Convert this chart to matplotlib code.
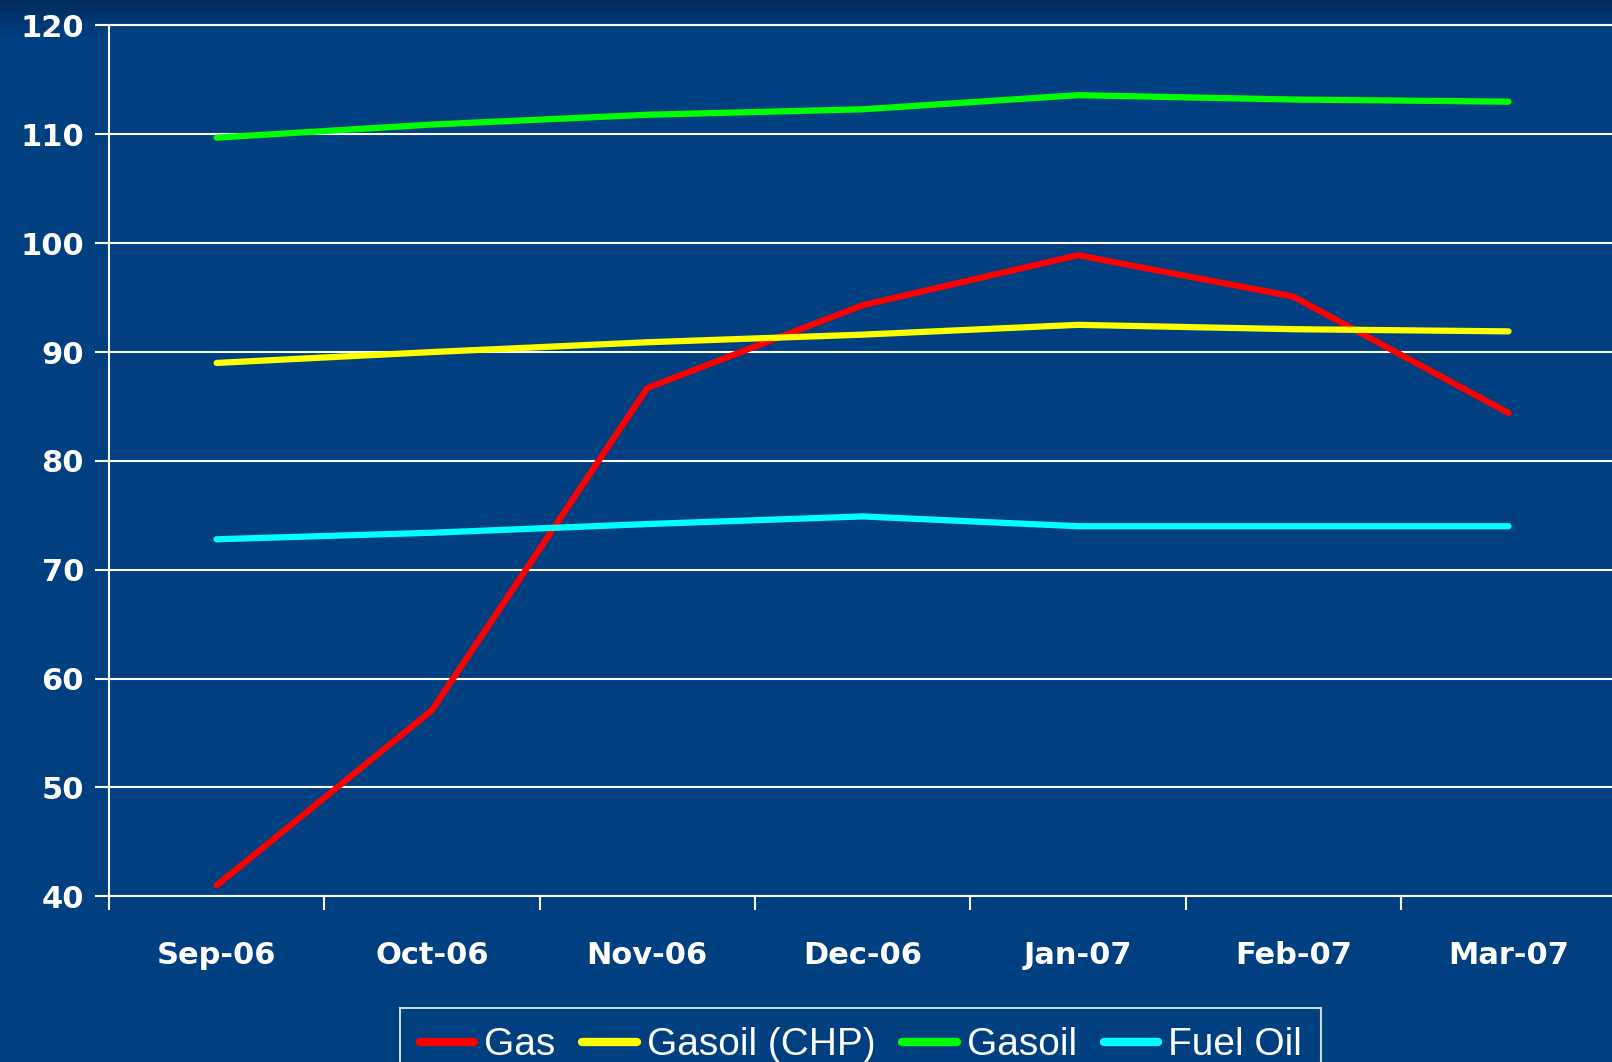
import numpy as np
import matplotlib.pyplot as plt
from matplotlib import font_manager

months = ['Sep-06', 'Oct-06', 'Nov-06', 'Dec-06', 'Jan-07', 'Feb-07', 'Mar-07']
gas = [41.0, 57.1, 86.7, 94.3, 98.9, 95.1, 84.4]
gasoil_chp = [89.0, 90.0, 90.9, 91.6, 92.5, 92.1, 91.9]
gasoil = [109.7, 110.9, 111.8, 112.3, 113.6, 113.2, 113.0]
fuel_oil = [72.8, 73.4, 74.2, 74.9, 74.0, 74.0, 74.0]

bg = '#003F80'
plt.rcParams['font.family'] = ['DejaVu Sans']

names = {f.name for f in font_manager.fontManager.ttflist}
leg_font = 'Liberation Sans Narrow' if 'Liberation Sans Narrow' in names else 'Liberation Sans'

fig = plt.figure(figsize=(16.12, 10.62), dpi=100, facecolor=bg)

# darker band at the very top of the slide
grad = fig.add_axes([0, 0.965, 1, 0.035], zorder=-1)
g = np.linspace(0, 1, 50).reshape(-1, 1)
grad.imshow(g, aspect='auto', cmap=plt.matplotlib.colors.LinearSegmentedColormap.from_list('t', ['#002B5E', bg]),
            extent=[0, 1, 0, 1], origin='upper')
grad.axis('off')

ax = fig.add_axes([0.0676, 0.156, 0.935, 0.82])
ax.set_facecolor(bg)

x = np.arange(len(months))
ax.plot(x, gas, color='#FF0000', lw=4.5, label='Gas', solid_capstyle='round')
ax.plot(x, gasoil_chp, color='#FFFF00', lw=4.5, label='Gasoil (CHP)', solid_capstyle='round')
ax.plot(x, gasoil, color='#00FF00', lw=4.5, label='Gasoil', solid_capstyle='round')
ax.plot(x, fuel_oil, color='#00FFFF', lw=4.5, label='Fuel Oil', solid_capstyle='round')

ax.set_xlim(-0.5, len(months) - 0.5)
ax.set_ylim(40, 120)
ax.set_yticks(range(40, 121, 10))
ax.set_xticks(x)
ax.set_xticklabels(months)
ax.set_xticks(np.arange(-0.5, len(months), 1), minor=True)
ax.tick_params(axis='x', which='major', length=0, pad=32, labelsize=22, colors='white')
ax.tick_params(axis='x', which='minor', length=10, width=1.5, color='white', direction='out')
ax.tick_params(axis='y', length=10, width=1.5, color='white', labelsize=22, labelcolor='white', pad=8)
for lab in ax.get_xticklabels() + ax.get_yticklabels():
    lab.set_fontweight('bold')

ax.grid(axis='y', color='white', lw=1.5)
ax.set_axisbelow(True)
for s in ['right']:
    ax.spines[s].set_visible(False)
for s in ['left', 'bottom', 'top']:
    ax.spines[s].set_color('white')
    ax.spines[s].set_linewidth(1.5)

leg = fig.legend(loc='upper center', bbox_to_anchor=(0.534, 0.051), ncol=4, frameon=True,
                 fancybox=False, facecolor=bg, edgecolor='white', handlelength=1.4,
                 handletextpad=0.25, columnspacing=0.7, borderpad=0.5, borderaxespad=0,
                 prop={'family': leg_font, 'size': 28})
leg.get_frame().set_linewidth(1.5)
for t in leg.get_texts():
    t.set_color('white')
for h in leg.get_lines():
    h.set_linewidth(6)

fig.savefig('out.png', dpi=100, facecolor=bg)
